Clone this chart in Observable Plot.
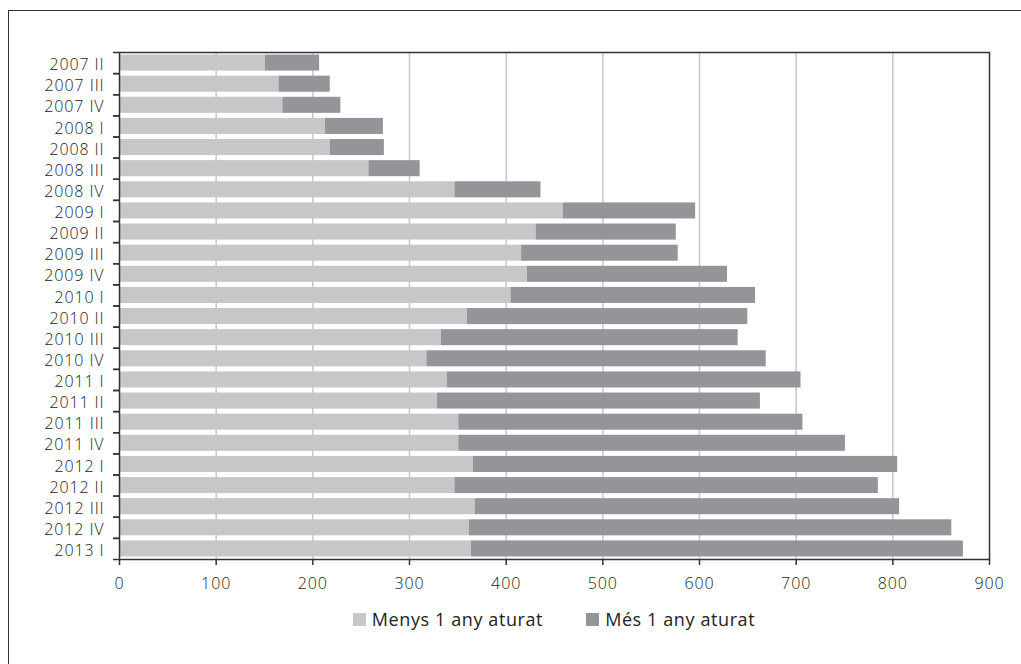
<!DOCTYPE html>
<html>
<head>
<meta charset="utf-8">
<script src="https://cdn.jsdelivr.net/npm/d3@7"></script>
<script src="https://cdn.jsdelivr.net/npm/@observablehq/plot@0.6"></script>
<style>
  html, body { margin: 0; padding: 0; background: #fff; }
  #wrap { position: relative; width: 1021px; height: 664px; overflow: hidden; background: #fff; }
  #border { position: absolute; left: 8px; top: 10px; right: -10px; bottom: -10px; border-top: 1.5px solid #333; border-left: 1.5px solid #333; pointer-events: none; }
  #chart { position: absolute; left: 0; top: 0; }
  #chart svg text { letter-spacing: 0.9px; font-weight: 300; }
  #legend { position: absolute; left: 119px; width: 870px; top: 607px; display: flex; justify-content: center; gap: 43px;
            font-family: "Open Sans", sans-serif; font-size: 18px; letter-spacing: 0.6px; color: #222; }
  .item { display: flex; align-items: center; gap: 6px; }
  .sw { width: 13px; height: 13px; display: inline-block; }
</style>
</head>
<body>
<div id="wrap">
  <div id="chart"></div>
  <div id="legend"></div>
  <div id="border"></div>
</div>
<script>
const categories = ["2007 II","2007 III","2007 IV","2008 I","2008 II","2008 III","2008 IV",
  "2009 I","2009 II","2009 III","2009 IV","2010 I","2010 II","2010 III","2010 IV",
  "2011 I","2011 II","2011 III","2011 IV","2012 I","2012 II","2012 III","2012 IV","2013 I"];
const menys = [151,165,169,213,218,258,347,459,431,416,422,405,360,333,318,339,329,351,351,366,347,368,362,364];
const mes   = [56,53,60,60,56,53,89,137,145,162,207,253,290,307,351,366,334,356,400,439,438,439,499,509];
const seriesNames = ["Menys 1 any aturat", "Més 1 any aturat"];
const seriesColors = ["#c6c7c9", "#949598"];
const xTicks = [0,100,200,300,400,500,600,700,800,900];

const data = [];
categories.forEach((c, i) => {
  data.push({cat: c, series: seriesNames[0], value: menys[i]});
  data.push({cat: c, series: seriesNames[1], value: mes[i]});
});

const width = 1021, height = 602;
const mt = 52, mb = 43, ml = 119, mr = 32;
const step = (height - mt - mb) / categories.length;

const chart = Plot.plot({
  width, height,
  marginTop: mt, marginBottom: mb, marginLeft: ml, marginRight: mr,
  style: {fontFamily: "'Open Sans', sans-serif", fontSize: "16px", color: "#222", background: "transparent"},
  x: {domain: [0, 900], label: null},
  y: {domain: categories, paddingInner: 0.24, paddingOuter: 0.12, round: false, label: null},
  color: {domain: seriesNames, range: seriesColors},
  marks: [
    Plot.gridX(xTicks.slice(1, -1), {stroke: "#c8c8c8", strokeOpacity: 1, strokeWidth: 1.5}),
    Plot.barX(data, Plot.stackX({y: "cat", x: "value", fill: "series", order: null})),
    Plot.axisX({ticks: xTicks, tickSize: 6, tickPadding: 12, stroke: "#333", strokeWidth: 1.5, label: null}),
    Plot.axisY({tickSize: 0, tickPadding: 15, dy: 2, label: null}),
    Plot.axisY({tickSize: 6, tickFormat: () => "", dy: -step / 2, stroke: "#333", strokeWidth: 1.5, label: null}),
    Plot.axisY({tickSize: 6, tickFormat: () => "", dy: step / 2, stroke: "#333", strokeWidth: 1.5, label: null}),
    Plot.frame({stroke: "#333", strokeWidth: 1.5})
  ]
});
document.getElementById("chart").appendChild(chart);

const legend = document.getElementById("legend");
seriesNames.forEach((name, i) => {
  const item = document.createElement("div");
  item.className = "item";
  const sw = document.createElement("span");
  sw.className = "sw";
  sw.style.background = seriesColors[i];
  const label = document.createElement("span");
  label.textContent = name;
  item.appendChild(sw);
  item.appendChild(label);
  legend.appendChild(item);
});
</script>
</body>
</html>
